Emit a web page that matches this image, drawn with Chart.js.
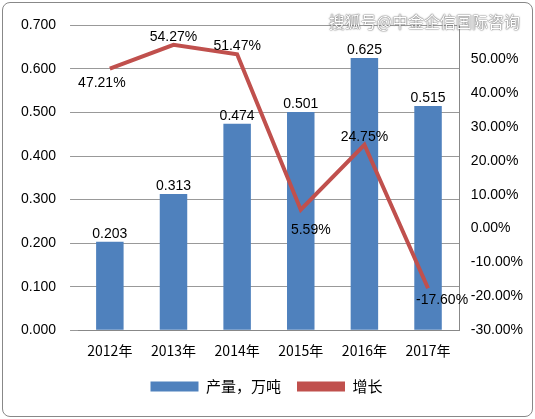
<!DOCTYPE html>
<html><head><meta charset="utf-8">
<script src="https://cdn.jsdelivr.net/npm/chart.js@4/dist/chart.umd.min.js"></script>
<style>
body{margin:0;background:#fff;}
#wrap{position:absolute;left:2px;top:2px;width:529px;height:413px;border:1px solid #888;border-radius:8px;background:#fff;}
#wm{position:absolute;right:12px;top:6px;font:16px "Noto Sans CJK SC";color:#fff;text-shadow:0 0 2px #666,0 0 1px #333;}
</style></head><body>
<div id="wrap"><canvas id="c" width="529" height="413"></canvas><div id="wm">搜狐号@中金企信国际咨询</div></div>
<script>
const categories=["2012年","2013年","2014年","2015年","2016年","2017年"];
const output=[0.203,0.313,0.474,0.501,0.625,0.515];
const growth=[47.21,54.27,51.47,5.59,24.75,-17.60];
const labelPlugin={id:'lbl',afterDatasetsDraw(ch){
 const ctx=ch.ctx;ctx.save();ctx.font='14px "Liberation Sans", Arial';ctx.fillStyle='#000';ctx.textAlign='center';
 ch.getDatasetMeta(1).data.forEach((b,i)=>{ctx.fillText(output[i].toFixed(3),b.x,b.y-8);});
 const offs=[[-8,14],[0,-8],[0,-8],[10,20],[0,-8],[14,12]];
 ch.getDatasetMeta(0).data.forEach((p,i)=>{ctx.fillText(growth[i].toFixed(2)+'%',p.x+offs[i][0],p.y+offs[i][1]);});
 ctx.restore();}};
new Chart(document.getElementById('c'),{
 data:{labels:categories,datasets:[
  {type:'line',label:'增长',data:growth,yAxisID:'y1',borderColor:'#C0504D',borderWidth:4,pointRadius:0,order:0},
  {type:'bar',label:'产量，万吨',data:output,yAxisID:'y',backgroundColor:'#4F81BD',categoryPercentage:0.6,barPercentage:0.72,order:1}
 ]},
 options:{responsive:false,animation:false,
  layout:{padding:{left:4,right:6,top:17,bottom:0}},
  plugins:{legend:{position:'bottom',reverse:true,labels:{font:{size:15,family:'"Noto Sans CJK SC"'},color:'#000',boxWidth:48,boxHeight:10,padding:16,
   generateLabels(ch){return ch.data.datasets.map((d,i)=>({text:d.label,fillStyle:i==0?'#C0504D':'#4F81BD',strokeStyle:'transparent',lineWidth:0,datasetIndex:i}));}}},tooltip:{enabled:false}},
  scales:{
   x:{grid:{display:false},border:{color:'#888'},ticks:{color:'#000',font:{size:14,family:'"Noto Sans CJK SC"'},padding:4}},
   y:{min:0,max:0.7,ticks:{stepSize:0.1,color:'#000',font:{size:14,family:'"Liberation Sans"'},callback:v=>v.toFixed(3),padding:14},grid:{color:'#999'},border:{display:false}},
   y1:{position:'right',min:-30,max:60,ticks:{stepSize:10,color:'#000',font:{size:14,family:'"Liberation Sans"'},callback:v=>v>=59.9?'':v.toFixed(2)+'%'},grid:{display:false},border:{color:'#888'}}
  }},
 plugins:[labelPlugin,{id:'legpad',beforeInit(ch){const f=ch.legend.fit;ch.legend.fit=function(){f.bind(ch.legend)();this.height+=12;};}}]});
</script></body></html>
